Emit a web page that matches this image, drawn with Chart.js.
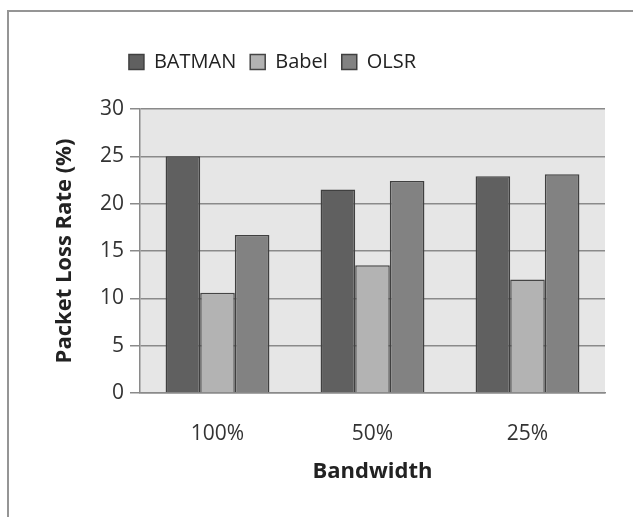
<!DOCTYPE html>
<html>
<head>
<meta charset="utf-8">
<script src="https://cdn.jsdelivr.net/npm/chart.js@4"></script>
<style>
  html, body { margin: 0; padding: 0; background: #fff; overflow: hidden; }
  #wrap { position: relative; width: 633px; height: 517px; }
  #frame { position: absolute; left: 7px; top: 10px; width: 640px; height: 520px;
           border-left: 2px solid #959595; border-top: 2px solid #959595; }
  canvas { position: absolute; left: 0; top: 0; }
</style>
</head>
<body>
<div id="wrap">
  <div id="frame"></div>
  <canvas id="chart" width="633" height="517"></canvas>
</div>
<script>
const categories = ['100%', '50%', '25%'];
const batman = [25, 21.5, 22.9];
const babel = [10.6, 13.5, 12.0];
const olsr = [16.7, 22.4, 23.1];

const FONT = '"Open Sans", "DejaVu Sans", sans-serif';

// grey plot area behind the bars
const plotBg = {
  id: 'plotBg',
  beforeDraw(chart) {
    const { ctx, chartArea: a } = chart;
    ctx.save();
    ctx.fillStyle = '#e6e6e6';
    ctx.fillRect(a.left, a.top, a.right - a.left, a.bottom - a.top);
    ctx.restore();
  }
};

// extra gap under the legend, and nudge it left like the original
const legendTweak = {
  id: 'legendTweak',
  beforeInit(chart) {
    const lg = chart.legend;
    if (!lg) return;
    const fit = lg.fit;
    lg.fit = function() {
      fit.call(this);
      this.height += 27;
    };
    const draw = lg.draw;
    lg.draw = function() {
      const c = this.ctx;
      c.save();
      c.translate(-54, 0);
      draw.call(this);
      c.restore();
    };
  }
};

const ctx = document.getElementById('chart').getContext('2d');
new Chart(ctx, {
  type: 'bar',
  data: {
    labels: categories,
    datasets: [
      { label: 'BATMAN', data: batman, backgroundColor: '#606060', borderColor: '#404040', borderWidth: 1.5 },
      { label: 'Babel', data: babel, backgroundColor: '#b3b3b3', borderColor: '#454545', borderWidth: 1.5 },
      { label: 'OLSR', data: olsr, backgroundColor: '#828282', borderColor: '#404040', borderWidth: 1.5 }
    ]
  },
  options: {
    responsive: false,
    animation: false,
    layout: { padding: { left: 48, right: 28, top: 38, bottom: 28 } },
    datasets: { bar: { categoryPercentage: 0.67, barPercentage: 1 } },
    plugins: {
      tooltip: { enabled: false },
      legend: {
        position: 'top',
        labels: {
          font: { family: FONT, size: 20 },
          color: '#222',
          boxWidth: 15,
          boxHeight: 15,
          padding: 14
        }
      }
    },
    scales: {
      x: {
        grid: { display: false },
        border: { display: true, color: '#8a8a8a', width: 1.5 },
        ticks: { font: { family: FONT, size: 21 }, color: '#333', padding: 20 },
        title: { display: true, text: 'Bandwidth', font: { family: FONT, size: 22, weight: 'bold' }, color: '#222', padding: { top: 4 } },
        afterFit(s) { s.height = 96; }
      },
      y: {
        min: 0,
        max: 30,
        ticks: { stepSize: 5, font: { family: FONT, size: 21 }, color: '#333', padding: 6 },
        grid: { color: '#8a8a8a', lineWidth: 1.5, tickLength: 10 },
        border: { display: true, color: '#8a8a8a', width: 1.5 },
        title: { display: true, text: 'Packet Loss Rate (%)', font: { family: FONT, size: 22, weight: 'bold' }, color: '#222' },
        afterFit(s) { s.width = 92; }
      }
    }
  },
  plugins: [plotBg, legendTweak]
});
</script>
</body>
</html>
